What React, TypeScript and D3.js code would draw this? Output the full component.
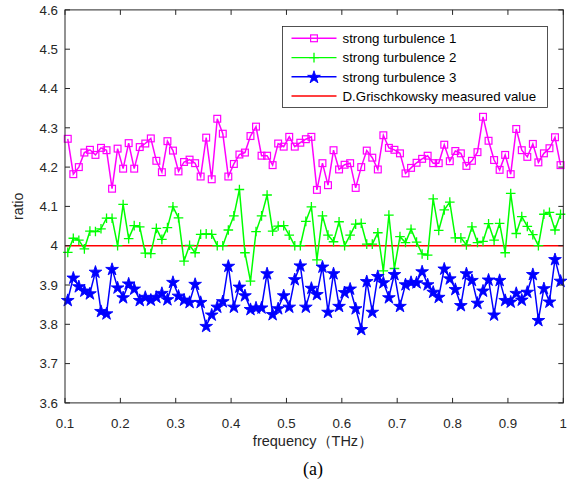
import React from "react";
import * as d3 from "d3";

const W = 574;
const H = 489;

// frequency samples (THz): 0.105, 0.115, ... 0.995
const freqStart = 0.105;
const freqStep = 0.01;
const nPoints = 90;
const frequency: number[] = d3.range(nPoints).map((i) => +(freqStart + i * freqStep).toFixed(3));

const turbulence1: number[] = [
  4.272, 4.182, 4.2, 4.237, 4.244, 4.231, 4.249, 4.243, 4.145, 4.247,
  4.196, 4.261, 4.196, 4.251, 4.26, 4.273, 4.216, 4.187, 4.266, 4.242,
  4.189, 4.213, 4.219, 4.21, 4.176, 4.275, 4.169, 4.323, 4.285, 4.176,
  4.208, 4.232, 4.237, 4.279, 4.303, 4.229, 4.229, 4.205, 4.26, 4.252,
  4.277, 4.252, 4.262, 4.271, 4.277, 4.142, 4.21, 4.154, 4.243, 4.194,
  4.206, 4.21, 4.147, 4.2, 4.242, 4.224, 4.194, 4.281, 4.249, 4.244,
  4.235, 4.184, 4.198, 4.211, 4.221, 4.229, 4.21, 4.21, 4.257, 4.215,
  4.241, 4.235, 4.203, 4.216, 4.238, 4.328, 4.267, 4.218, 4.193, 4.231,
  4.182, 4.297, 4.243, 4.226, 4.259, 4.212, 4.235, 4.248, 4.276, 4.205,
];

const turbulence2: number[] = [
  3.983, 4.019, 4.014, 3.992, 4.037, 4.036, 4.043, 4.07, 4.07, 4.0,
  4.105, 4.018, 4.051, 4.048, 3.981, 3.98, 4.044, 4.016, 4.046, 4.099,
  4.071, 3.961, 4.001, 3.982, 4.029, 4.03, 4.029, 4.0, 4.0, 4.04,
  4.076, 4.143, 3.982, 3.91, 4.036, 4.076, 4.129, 4.037, 4.05, 4.051,
  4.027, 4.0, 4.0, 4.062, 4.099, 3.964, 4.076, 4.027, 4.01, 4.061,
  4.0, 4.027, 4.055, 4.057, 4.004, 4.004, 4.033, 3.936, 4.078, 3.942,
  4.023, 4.008, 4.042, 4.009, 3.979, 3.976, 4.119, 4.039, 4.091, 4.111,
  4.02, 4.02, 4.002, 4.048, 4.008, 4.011, 4.056, 4.014, 4.057, 3.982,
  4.133, 4.031, 4.074, 4.049, 4.028, 4.0, 4.08, 4.085, 4.04, 4.08,
];

const turbulence3: number[] = [
  3.862, 3.919, 3.897, 3.886, 3.879, 3.934, 3.834, 3.828, 3.941, 3.894,
  3.869, 3.904, 3.891, 3.862, 3.87, 3.863, 3.87, 3.88, 3.864, 3.908,
  3.873, 3.863, 3.857, 3.903, 3.857, 3.796, 3.825, 3.845, 3.859, 3.949,
  3.845, 3.896, 3.874, 3.839, 3.843, 3.843, 3.93, 3.826, 3.841, 3.874,
  3.845, 3.915, 3.95, 3.845, 3.893, 3.877, 3.947, 3.832, 3.93, 3.847,
  3.882, 3.891, 3.841, 3.788, 3.91, 3.832, 3.923, 3.907, 3.869, 3.928,
  3.847, 3.902, 3.908, 3.907, 3.935, 3.902, 3.883, 3.87, 3.942, 3.917,
  3.89, 3.849, 3.93, 3.913, 3.855, 3.886, 3.914, 3.825, 3.913, 3.862,
  3.858, 3.88, 3.863, 3.883, 3.928, 3.811, 3.892, 3.858, 3.966, 3.911,
];

const measuredValue = 4.0;

const xTicks: number[] = [0.1, 0.2, 0.3, 0.4, 0.5, 0.6, 0.7, 0.8, 0.9, 1];
const xTickLabels: string[] = ["0.1", "0.2", "0.3", "0.4", "0.5", "0.6", "0.7", "0.8", "0.9", "1"];
const yTicks: number[] = [3.6, 3.7, 3.8, 3.9, 4.0, 4.1, 4.2, 4.3, 4.4, 4.5, 4.6];
const yTickLabels: string[] = ["3.6", "3.7", "3.8", "3.9", "4", "4.1", "4.2", "4.3", "4.4", "4.5", "4.6"];

const legendLabels: string[] = [
  "strong turbulence 1",
  "strong turbulence 2",
  "strong turbulence 3",
  "D.Grischkowsky measured value",
];

const xLabel = "frequency（THz）";
const yLabel = "ratio";
const caption = "(a)";

const MAGENTA = "#ff00ff";
const GREEN = "#00ff00";
const BLUE = "#0000ff";
const RED = "#ff0000";
const AXIS = "#262626";
const FONT = "'Liberation Sans', Arial, Helvetica, sans-serif";

const plot = { left: 65, right: 563.3, top: 9.9, bottom: 402.9 };

const x = d3.scaleLinear().domain([0.1, 1]).range([plot.left, plot.right]);
const y = d3.scaleLinear().domain([3.6, 4.6]).range([plot.bottom, plot.top]);

const starPath = d3.symbol().type(d3.symbolStar).size(50)() as string;

function Square({ cx, cy }: { cx: number; cy: number }) {
  const s = 6.8;
  return (
    <rect x={cx - s / 2} y={cy - s / 2} width={s} height={s} fill="none" stroke={MAGENTA} strokeWidth={1.2} />
  );
}

function Plus({ cx, cy }: { cx: number; cy: number }) {
  const r = 4.8;
  return (
    <path d={`M${cx - r},${cy}H${cx + r}M${cx},${cy - r}V${cy + r}`} stroke={GREEN} strokeWidth={1.3} fill="none" />
  );
}

function Star({ cx, cy }: { cx: number; cy: number }) {
  return (
    <path d={starPath} transform={`translate(${cx},${cy + 0.6})`} fill={BLUE} stroke={BLUE} strokeWidth={0.9} strokeLinejoin="miter" />
  );
}

export default function App() {
  const line = d3
    .line<number>()
    .x((_, i) => x(frequency[i]))
    .y((d) => y(d));

  const series = [
    { data: turbulence1, color: MAGENTA, Marker: Square },
    { data: turbulence2, color: GREEN, Marker: Plus },
    { data: turbulence3, color: BLUE, Marker: Star },
  ];

  const tickLen = 5;
  const legend = { x: 282.5, y: 26.5, w: 265, h: 81, rowY: [38.3, 57.6, 76.8, 96], lx1: 291.5, lx2: 336.5, tx: 342.5 };

  return (
    <svg width={W} height={H} style={{ position: "absolute", left: 0, top: 0, background: "#fff" }} fontFamily={FONT}>
      <rect x={0} y={0} width={W} height={H} fill="#fff" />

      {/* reference value line */}
      <line x1={plot.left} x2={plot.right} y1={y(measuredValue)} y2={y(measuredValue)} stroke={RED} strokeWidth={1.5} />

      {series.map(({ data, color, Marker }, si) => (
        <g key={si}>
          <path d={line(data) as string} fill="none" stroke={color} strokeWidth={1.5} strokeLinejoin="miter" />
          {data.map((v, i) => (
            <Marker key={i} cx={x(frequency[i])} cy={y(v)} />
          ))}
        </g>
      ))}

      {/* axes box */}
      <rect x={plot.left} y={plot.top} width={plot.right - plot.left} height={plot.bottom - plot.top} fill="none" stroke={AXIS} strokeWidth={1} />

      {xTicks.map((t, i) => (
        <g key={"xt" + i}>
          <line x1={x(t)} x2={x(t)} y1={plot.bottom} y2={plot.bottom - tickLen} stroke={AXIS} />
          <line x1={x(t)} x2={x(t)} y1={plot.top} y2={plot.top + tickLen} stroke={AXIS} />
          <text x={x(t)} y={plot.bottom + 25} textAnchor="middle" fontSize={13.3} fill={AXIS}>
            {xTickLabels[i]}
          </text>
        </g>
      ))}

      {yTicks.map((t, i) => (
        <g key={"yt" + i}>
          <line x1={plot.left} x2={plot.left + tickLen} y1={y(t)} y2={y(t)} stroke={AXIS} />
          <line x1={plot.right} x2={plot.right - tickLen} y1={y(t)} y2={y(t)} stroke={AXIS} />
          <text x={plot.left - 7} y={y(t)} dy="0.36em" textAnchor="end" fontSize={13.3} fill={AXIS}>
            {yTickLabels[i]}
          </text>
        </g>
      ))}

      <text x={313} y={446} textAnchor="middle" fontSize={14.5} fill={AXIS}>
        {xLabel}
      </text>
      <text transform={`translate(23,${(plot.top + plot.bottom) / 2}) rotate(-90)`} textAnchor="middle" fontSize={14} fill={AXIS}>
        {yLabel}
      </text>

      <text x={313} y={475} textAnchor="middle" fontSize={18} fill="#000" fontFamily="'Liberation Serif', 'Times New Roman', serif">
        {caption}
      </text>

      {/* legend */}
      <g>
        <rect x={legend.x} y={legend.y} width={legend.w} height={legend.h} fill="#fff" stroke={AXIS} strokeWidth={0.8} />
        {legendLabels.map((lab, i) => {
          const ry = legend.rowY[i];
          const color = [MAGENTA, GREEN, BLUE, RED][i];
          const cx = (legend.lx1 + legend.lx2) / 2;
          return (
            <g key={"lg" + i}>
              <line x1={legend.lx1} x2={legend.lx2} y1={ry} y2={ry} stroke={color} strokeWidth={1.4} />
              {i === 0 && <Square cx={cx} cy={ry} />}
              {i === 1 && <Plus cx={cx} cy={ry} />}
              {i === 2 && <Star cx={cx} cy={ry} />}
              <text x={legend.tx} y={ry} dy="0.36em" fontSize={13.3} fill="#000">
                {lab}
              </text>
            </g>
          );
        })}
      </g>
    </svg>
  );
}
